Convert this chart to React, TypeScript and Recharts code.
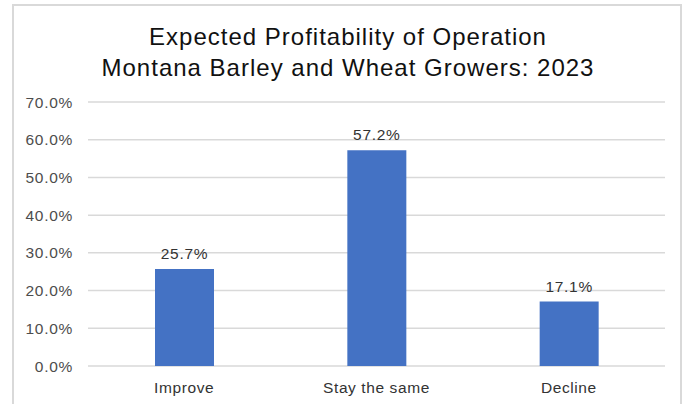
import React from 'react';
import { BarChart, Bar, XAxis, YAxis, CartesianGrid, LabelList } from 'recharts';

const categories = ['Improve', 'Stay the same', 'Decline'];
const shares = [25.7, 57.2, 17.1];
const yTicks = [0, 10, 20, 30, 40, 50, 60, 70];
const titleLines = ['Expected Profitability of Operation', 'Montana Barley and Wheat Growers: 2023'];

const data = categories.map((name, i) => ({ name, value: shares[i] }));

const FONT = '"Liberation Sans", Arial, sans-serif';
const pct = (v: number) => `${v.toFixed(1)}%`;

export default function App() {
  return (
    <div style={{ position: 'absolute', left: 0, top: 0, width: 689, height: 404, background: '#fff', overflow: 'hidden' }}>
      {/* chart frame */}
      <div
        style={{
          position: 'absolute',
          left: 12,
          top: 4,
          width: 670,
          height: 420,
          border: '2px solid #d9d9d9',
          boxSizing: 'border-box',
        }}
      />
      <div
        style={{
          position: 'absolute',
          left: 0,
          top: 21,
          width: 696,
          textAlign: 'center',
          fontFamily: FONT,
          fontSize: 24,
          lineHeight: '31px',
          letterSpacing: 1,
          color: '#111',
        }}
      >
        {titleLines.map((t) => (
          <div key={t}>{t}</div>
        ))}
      </div>
      <div style={{ position: 'absolute', left: 0, top: 0 }}>
        <BarChart width={689} height={404} data={data} margin={{ top: 102, right: 24, left: 0, bottom: 8 }}>
          <CartesianGrid vertical={false} stroke="#d9d9d9" strokeWidth={1.5} />
          <XAxis
            dataKey="name"
            axisLine={false}
            tickLine={false}
            tickSize={14}
            tickMargin={2}
            height={30}
            tick={{ fill: '#333', fontSize: 15.5, fontFamily: FONT, letterSpacing: 0.6 }}
          />
          <YAxis
            domain={[0, 70]}
            ticks={yTicks}
            tickFormatter={pct}
            axisLine={false}
            tickLine={false}
            width={88}
            tickSize={13}
            tickMargin={2}
            tick={{ fill: '#4d4d4d', fontSize: 15.5, fontFamily: FONT, letterSpacing: 0.7 }}
          />
          <Bar dataKey="value" fill="#4472c4" barSize={59} isAnimationActive={false}>
            <LabelList
              dataKey="value"
              position="top"
              offset={10}
              formatter={(v: any) => pct(Number(v))}
              style={{ fill: '#333', fontSize: 15.5, fontFamily: FONT, letterSpacing: 0.7 }}
            />
          </Bar>
        </BarChart>
      </div>
    </div>
  );
}
